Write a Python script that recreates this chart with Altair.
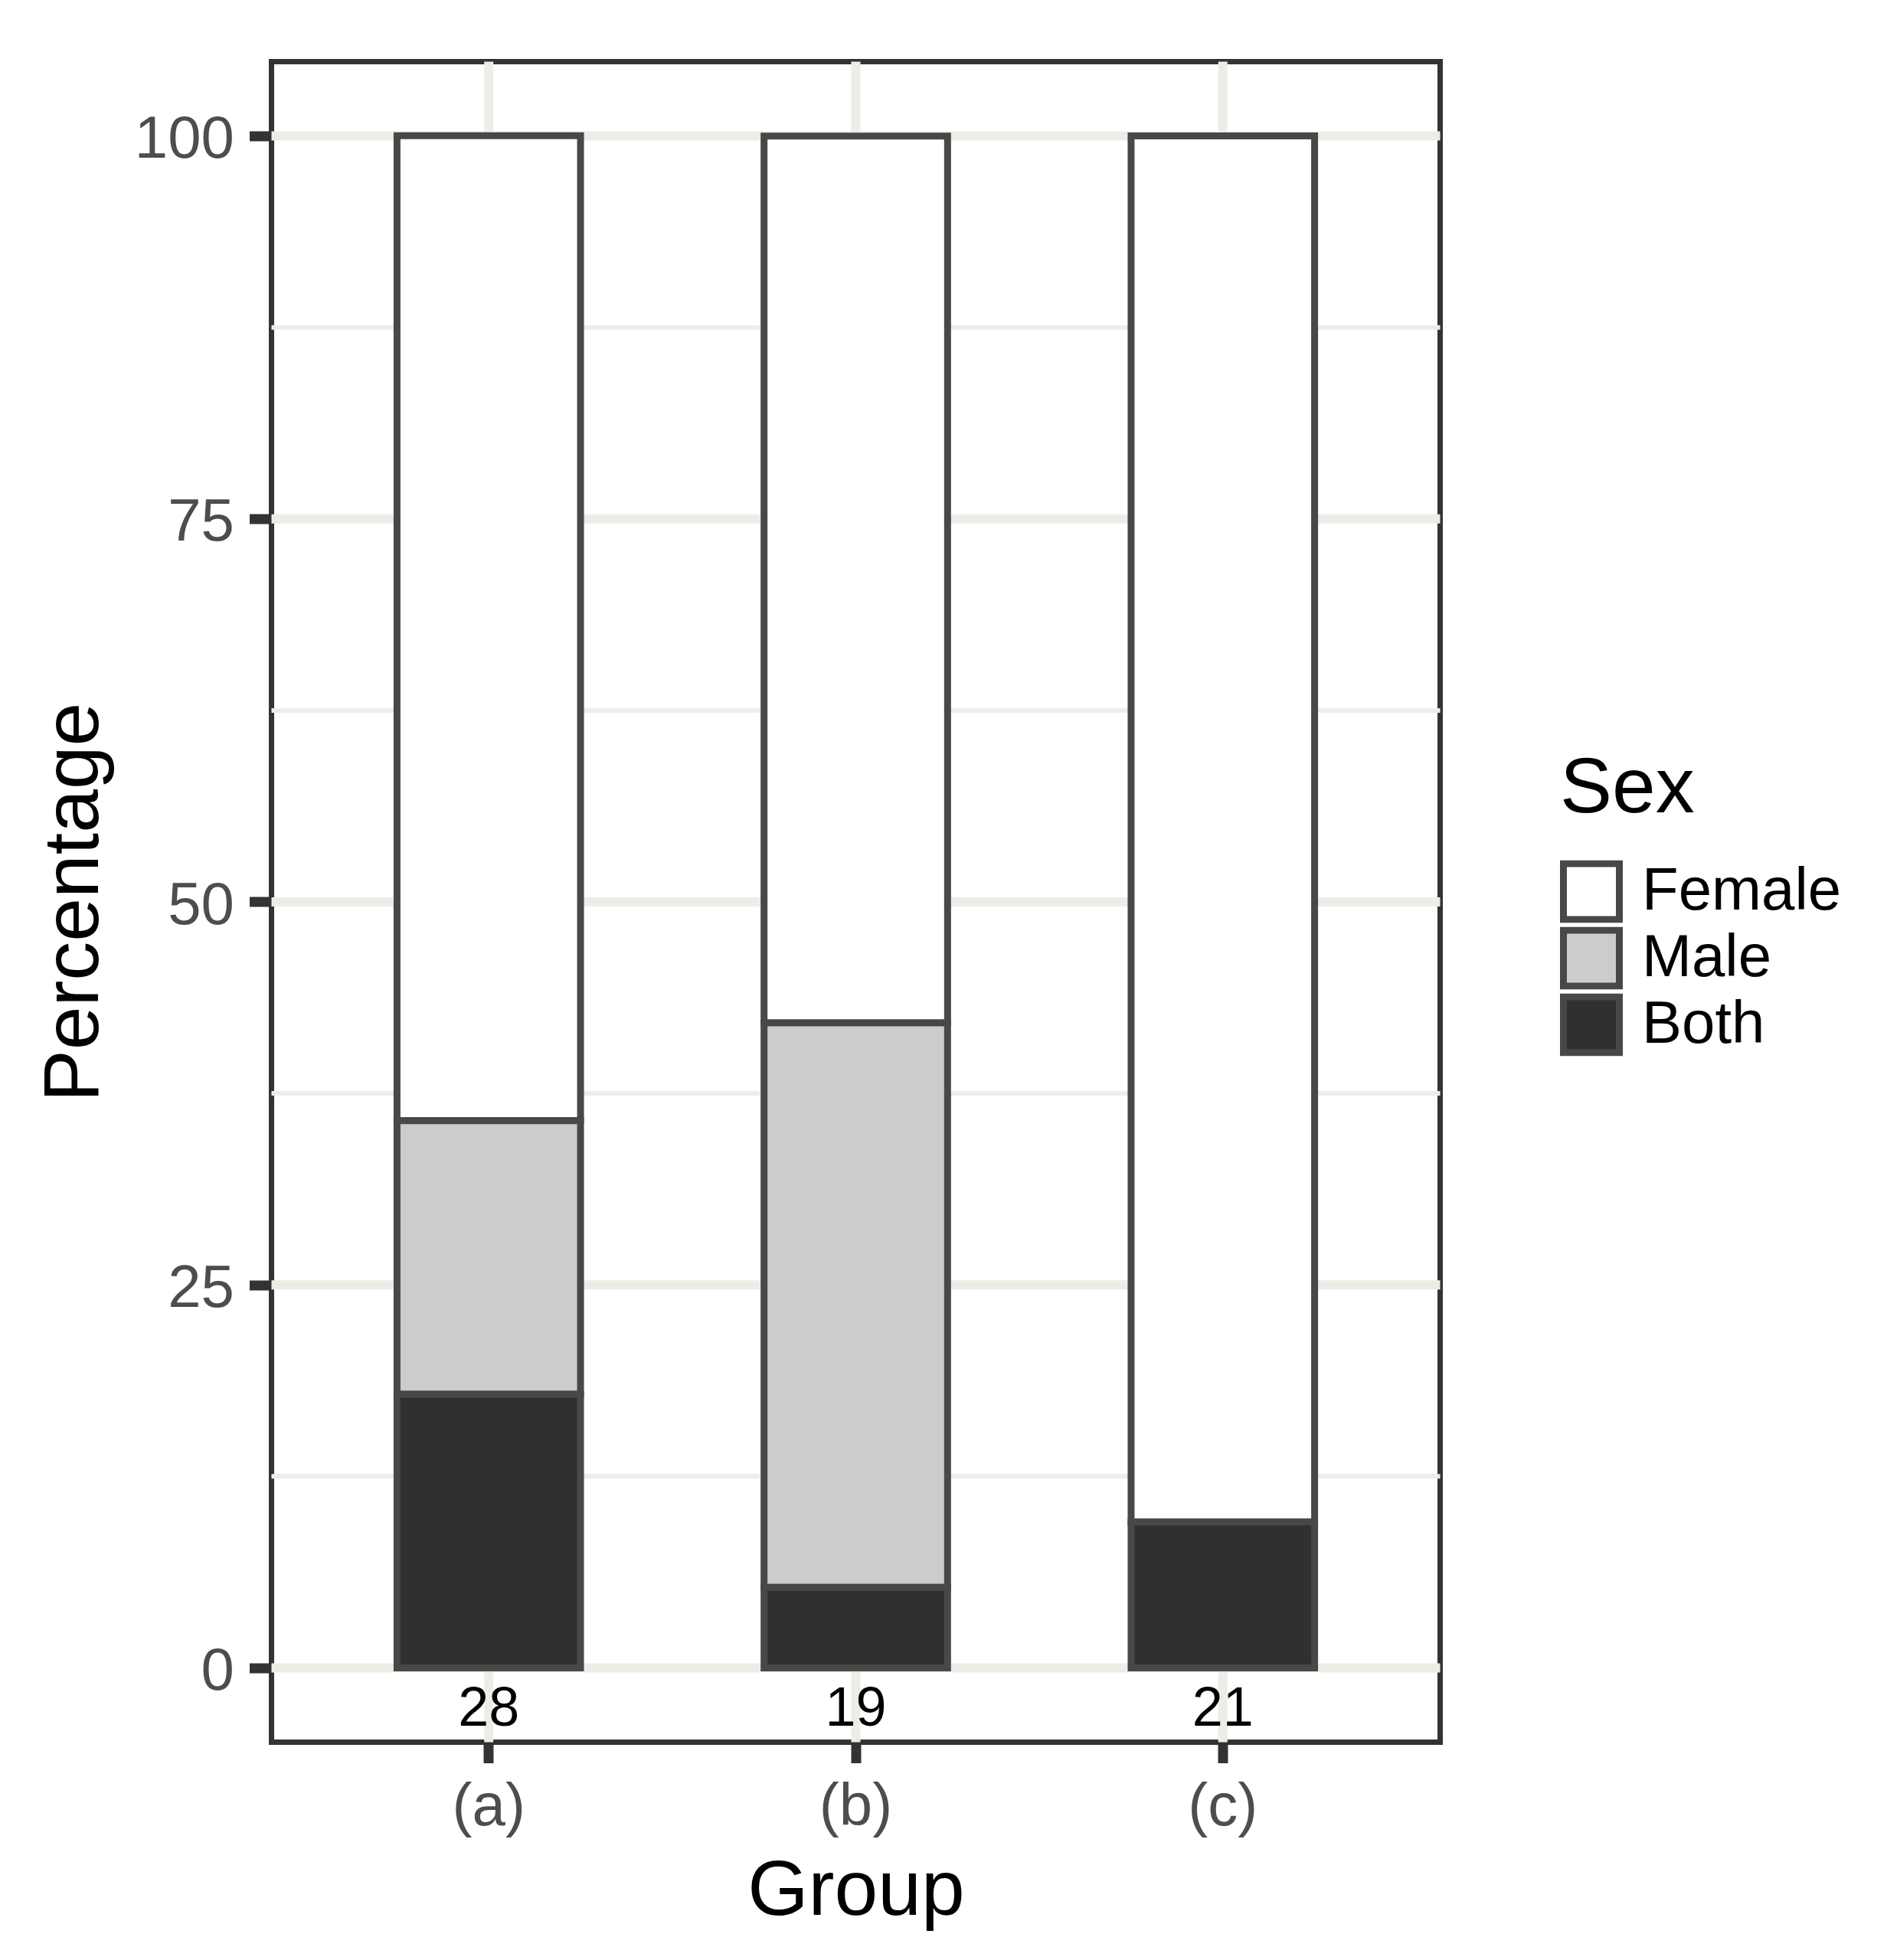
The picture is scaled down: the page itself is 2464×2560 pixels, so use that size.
import altair as alt
import pandas as pd

# ---- data ----
groups = ["(a)", "(b)", "(c)"]
counts = [28, 19, 21]
sexes = ["Female", "Male", "Both"]
female_pct = [64.29, 57.89, 90.48]
male_pct = [17.86, 36.84, 0.0]
both_pct = [17.86, 5.26, 9.52]
stack_rank = {"Both": 0, "Male": 1, "Female": 2}
sex_colors = ["#FFFFFF", "#CCCCCC", "#303030"]
y_major = [0, 25, 50, 75, 100]
y_minor = [12.5, 37.5, 62.5, 87.5]
count_label_y = -2.5

FONT = "Liberation Sans"

rows = []
for i, g in enumerate(groups):
    for s, vals in zip(sexes, [female_pct, male_pct, both_pct]):
        rows.append({"group": g, "Sex": s, "pct": vals[i], "order": stack_rank[s]})
bars_df = pd.DataFrame(rows)
counts_df = pd.DataFrame({"group": groups, "n": counts, "pct": [count_label_y] * len(groups)})
major_df = pd.DataFrame({"pct": y_major})
minor_df = pd.DataFrame({"pct": y_minor})
groups_df = pd.DataFrame({"group": groups})

x_scale = alt.Scale(domain=groups, paddingInner=0.5, paddingOuter=0.342)
y_scale = alt.Scale(domain=[-4.85, 104.85], nice=False, zero=False)
GRID = "#EDEDE7"

x_axis = alt.Axis(
    title="Group", labelAngle=0, labelFontSize=78, labelColor="#4D4D4D", labelFont=FONT,
    labelBaseline="middle", labelPadding=57.5, tickSize=27, tickWidth=13, tickColor="#333333",
    domain=False, grid=False, titleFont=FONT, titleFontSize=102, titleFontWeight="normal",
    titleColor="#000000", titleX=763, titleY=224.5, titleBaseline="alphabetic", titleAlign="center",
)
y_axis = alt.Axis(
    title="Percentage", values=y_major, labelFontSize=78, labelColor="#4D4D4D", labelFont=FONT,
    labelPadding=20, labelBaseline="middle", labelOffset=5, tickSize=29, tickWidth=13,
    tickColor="#333333", domain=False, grid=False, titleFont=FONT, titleFontSize=102,
    titleFontWeight="normal", titleColor="#000000", titleX=-227.5, titleY=1097.5,
    titleAngle=270, titleBaseline="alphabetic", titleAlign="center",
)

X = alt.X("group:N", scale=x_scale, axis=x_axis, title="Group")

minor = alt.Chart(minor_df).mark_rule(color=GRID, strokeWidth=6).encode(
    y=alt.Y("pct:Q", scale=y_scale, axis=y_axis, title="Percentage")
)
major = alt.Chart(major_df).mark_rule(color=GRID, strokeWidth=12).encode(
    y=alt.Y("pct:Q", scale=y_scale, axis=y_axis, title="Percentage")
)
vert = alt.Chart(groups_df).mark_rule(color=GRID, strokeWidth=12).encode(x=X)
bars = alt.Chart(bars_df).transform_filter("datum.pct > 0").mark_bar(
    stroke="#484848", strokeWidth=9
).encode(
    x=X,
    y=alt.Y("pct:Q", stack="zero", scale=y_scale, axis=y_axis, title="Percentage"),
    color=alt.Color("Sex:N", scale=alt.Scale(domain=sexes, range=sex_colors),
                    legend=alt.Legend(title="Sex")),
    order=alt.Order("order:Q"),
)
texts = alt.Chart(counts_df).mark_text(
    fontSize=72, font=FONT, color="#000000", baseline="middle", dy=4
).encode(
    x=X,
    y=alt.Y("pct:Q", scale=y_scale, axis=y_axis, title="Percentage"),
    text="n:Q",
)

chart = alt.layer(minor, major, vert, bars, texts).properties(
    width=1526, height=2195,
    autosize=alt.AutoSizeParams(type="none"),
    padding={"left": 346.5, "top": 72.5, "right": 560, "bottom": 260},
    background="white",
).configure_view(
    stroke="#333333", strokeWidth=7, fill="white"
).configure_legend(
    orient="none", legendX=1682.5, legendY=899, padding=0,
    titleFont=FONT, titleFontSize=102, titleFontWeight="normal", titleColor="#000000",
    titlePadding=42, titleBaseline="top",
    labelFont=FONT, labelFontSize=78, labelColor="#000000", labelOffset=25, labelLimit=1000,
    symbolType="square", symbolSize=5329, symbolStrokeWidth=9, symbolStrokeColor="#484848",
    symbolOpacity=1, rowPadding=5, clipHeight=82,
)

chart.save("out.html", embed_options={"renderer": "svg", "actions": False})
